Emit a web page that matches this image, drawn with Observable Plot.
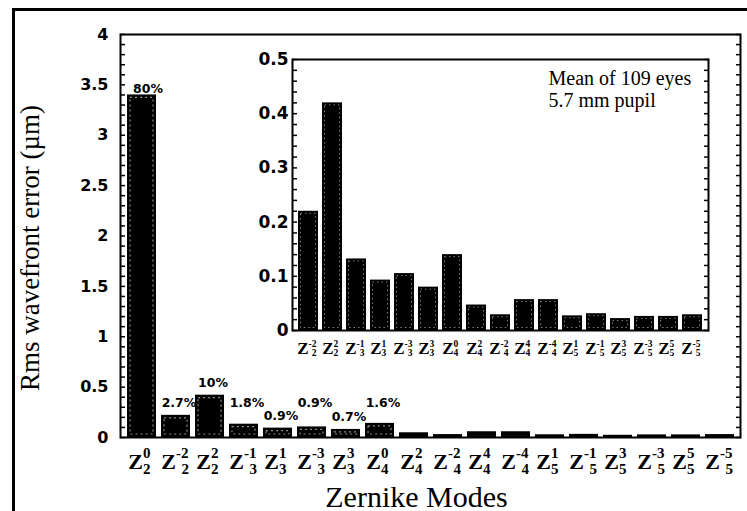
<!DOCTYPE html>
<html><head><meta charset="utf-8">
<script src="https://cdn.jsdelivr.net/npm/d3@7"></script>
<script src="https://cdn.jsdelivr.net/npm/@observablehq/plot@0.6"></script>
<style>
html,body{margin:0;padding:0;background:#fff;overflow:hidden;}
#wrap{position:relative;width:747px;height:511px;overflow:hidden;background:#fff;}
#border{position:absolute;left:12px;top:8px;width:900px;height:700px;border:3px solid #000;box-sizing:border-box;}
#main,#inset{position:absolute;}
#main{left:0;top:0;}
#inset{left:250px;top:49px;}
svg{background:transparent !important;overflow:visible;}
</style></head><body>
<div id="wrap"><div id="border"></div><div id="main"></div><div id="inset"></div></div>
<script>
// ---- data ----
const modeN = [2, 2, 2, 3, 3, 3, 3, 4, 4, 4, 4, 4, 5, 5, 5, 5, 5, 5];
const modeM = [0, -2, 2, -1, 1, -3, 3, 0, 2, -2, 4, -4, 1, -1, 3, -3, 5, -5];
const rmsValues = [3.40, 0.22, 0.42, 0.132, 0.093, 0.105, 0.080, 0.140, 0.047, 0.029, 0.057, 0.057, 0.027, 0.031, 0.022, 0.026, 0.026, 0.029];
const pctLabels = ["80%", "2.7%", "10%", "1.8%", "0.9%", "0.9%", "0.7%", "1.6%"];
const mainTicks = [0, 0.5, 1, 1.5, 2, 2.5, 3, 3.5, 4];
const insetTicks = [0, 0.1, 0.2, 0.3, 0.4, 0.5];
const insetNote = ["Mean of 109 eyes", "5.7 mm pupil"];
const yTitle = "Rms wavefront error (µm)";
const xTitle = "Zernike Modes";

// ---- build rows ----
const rows = modeN.map((n, i) => ({key: `Z${n}^${modeM[i]}`, n, m: modeM[i], value: rmsValues[i], i}));
const insetRows = rows.slice(1);
const pctRows = pctLabels.map((p, i) => ({...rows[i], pct: p,
  // staggered labels: the small bars at odd positions carry their label at the level of the 2.7% label
  ly: (i >= 3 && i % 2 === 1) ? rows[1].value : rows[i].value}));

const SERIF = "'Liberation Serif','Times New Roman',Times,serif";
const SANS = "'DejaVu Sans',Arial,sans-serif";

function zLabels(data, s) {
  const pos = data.filter(d => d.m >= 0), neg = data.filter(d => d.m < 0);
  const c = {x: "key", frameAnchor: "bottom", lineAnchor: "bottom", fontFamily: SERIF, fontWeight: "bold", fill: "black"};
  return [
    Plot.text(pos, {...c, text: () => "Z", fontSize: s.z, textAnchor: "end", dx: s.dxPos, dy: s.zdy}),
    Plot.text(neg, {...c, text: () => "Z", fontSize: s.z, textAnchor: "end", dx: s.dxNeg, dy: s.zdy}),
    Plot.text(pos, {...c, text: d => String(d.m), fontSize: s.s, textAnchor: "start", dx: s.dxPos, dy: s.supdy}),
    Plot.text(neg, {...c, text: d => "-" + (-d.m), fontSize: s.s, textAnchor: "start", dx: s.dxNeg, dy: s.supdy}),
    Plot.text(pos, {...c, text: d => String(d.n), fontSize: s.s, textAnchor: "start", dx: s.dxPos, dy: s.subdy}),
    Plot.text(neg, {...c, text: d => String(d.n), fontSize: s.s, textAnchor: "end", dx: s.dxNeg + s.negw, dy: s.subdy})
  ];
}

const mainMinor = d3.range(0, 4.0001, 0.1);
const main = Plot.plot({
  width: 747, height: 511,
  marginLeft: 120, marginRight: 7, marginTop: 34, marginBottom: 74,
  style: {background: "transparent", overflow: "visible"},
  x: {domain: rows.map(d => d.key), paddingInner: 0.15, paddingOuter: 0.075, axis: null},
  y: {domain: [0, 4], axis: null},
  marks: [
    Plot.barY(rows, {x: "key", y: "value", fill: "black"}),
    Plot.barY(rows.filter(d => d.value > 0.06), {x: "key", y: "value", inset: 3, fill: "none", stroke: "white", strokeWidth: 1.2, strokeDasharray: "2,3", strokeOpacity: 0.55}),
    Plot.frame({stroke: "black", strokeWidth: 2}),
    Plot.axisY(mainMinor, {anchor: "left", tickSize: 5, dx: 5, fill: "none", label: null, strokeWidth: 1.5}),
    Plot.axisY(mainMinor, {anchor: "right", tickSize: 5, dx: -5, fill: "none", label: null, strokeWidth: 1.5}),
    Plot.axisY(mainTicks, {anchor: "left", tickSize: 0, tickPadding: 12, tickFormat: d => String(d), fontSize: 16, fontWeight: "bold", fontFamily: SANS, label: null, fill: "black"}),
    Plot.text(pctRows.slice(0, 1), {x: "key", y: "ly", text: "pct", lineAnchor: "bottom", dy: -2, dx: 6, fontSize: 12.5, fontWeight: "bold", fontFamily: SANS, fill: "black"}),
    Plot.text(pctRows.slice(1), {x: "key", y: "ly", text: "pct", lineAnchor: "bottom", dy: -8, dx: 3, fontSize: 12.5, fontWeight: "bold", fontFamily: SANS, fill: "black"}),
    ...zLabels(rows, {z: 22, s: 15, dxPos: 1, dxNeg: 0, zdy: 31, supdy: 20, subdy: 36, negw: 13}),
    Plot.text([xTitle], {text: d => d, frameAnchor: "bottom", lineAnchor: "bottom", dy: 69, dx: -14, fontSize: 30, fontFamily: SERIF, fill: "black"}),
    Plot.text([yTitle], {text: d => d, frameAnchor: "left", textAnchor: "middle", rotate: -90, dx: -90, dy: 12, fontSize: 27, fontFamily: SERIF, fill: "black"})
  ]
});
document.getElementById("main").appendChild(main);

const insetMinor = d3.range(0, 0.5001, 0.02);
const inset = Plot.plot({
  width: 462, height: 311,
  marginLeft: 42, marginRight: 4, marginTop: 10, marginBottom: 30,
  style: {background: "transparent", overflow: "visible"},
  x: {domain: insetRows.map(d => d.key), paddingInner: 0.18, paddingOuter: 0.09, axis: null},
  y: {domain: [0, 0.5], axis: null},
  marks: [
    Plot.barY(insetRows, {x: "key", y: "value", fill: "black"}),
    Plot.barY(insetRows, {x: "key", y: "value", inset: 2.5, fill: "none", stroke: "white", strokeWidth: 1, strokeDasharray: "1.5,3", strokeOpacity: 0.5}),
    Plot.frame({stroke: "black", strokeWidth: 2}),
    Plot.axisY(insetMinor, {anchor: "left", tickSize: 5, dx: 5, fill: "none", label: null, strokeWidth: 1.5}),
    Plot.axisY(insetMinor, {anchor: "right", tickSize: 5, dx: -5, fill: "none", label: null, strokeWidth: 1.5}),
    Plot.axisY(insetTicks, {anchor: "left", tickSize: 0, tickPadding: 4, tickFormat: d => String(d), fontSize: 17, fontWeight: "bold", fontFamily: SANS, label: null, fill: "black"}),
    ...zLabels(insetRows, {z: 17, s: 9.5, dxPos: 1, dxNeg: 0, zdy: 23, supdy: 16, subdy: 25, negw: 8}),
    Plot.text([insetNote.join("\n")], {text: d => d, frameAnchor: "top-left", textAnchor: "start", lineAnchor: "top", lineHeight: 1.1, dx: 256, dy: 10, fontSize: 20, fontFamily: SERIF, fill: "black"})
  ]
});
document.getElementById("inset").appendChild(inset);
</script>
</body></html>
